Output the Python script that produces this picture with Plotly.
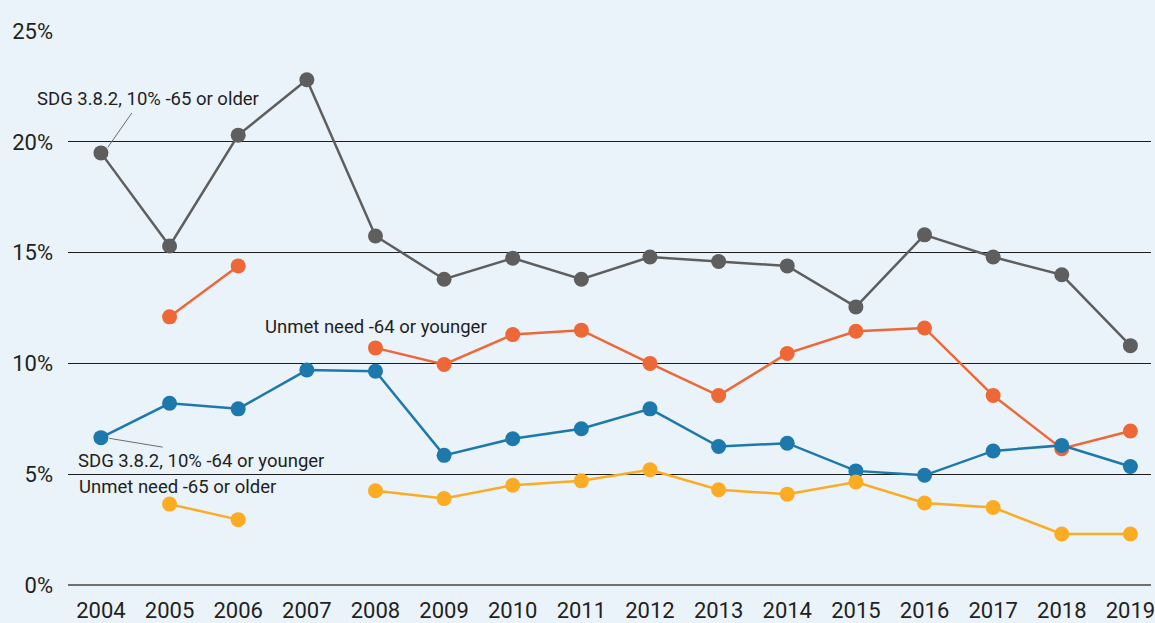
import plotly.graph_objects as go

years = list(range(2004, 2020))
sdg_65_older = [19.5, 15.3, 20.3, 22.8, 15.75, 13.8, 14.75, 13.8, 14.8, 14.6, 14.4, 12.55, 15.8, 14.8, 14.0, 10.8]
unmet_64_younger = [None, 12.1, 14.4, None, 10.7, 9.95, 11.3, 11.5, 10.0, 8.55, 10.45, 11.45, 11.6, 8.55, 6.15, 6.95]
sdg_64_younger = [6.65, 8.2, 7.95, 9.7, 9.65, 5.85, 6.6, 7.05, 7.95, 6.25, 6.4, 5.15, 4.95, 6.05, 6.3, 5.35]
unmet_65_older = [None, 3.65, 2.95, None, 4.25, 3.9, 4.5, 4.7, 5.2, 4.3, 4.1, 4.65, 3.7, 3.5, 2.3, 2.3]

y_ticks = [0, 5, 10, 15, 20, 25]
y_tick_labels = ["0%", "5%", "10%", "15%", "20%", "25%"]

series = [
    ("SDG 3.8.2, 10% -65 or older", sdg_65_older, "#5e5e5f"),
    ("Unmet need -64 or younger", unmet_64_younger, "#ee6837"),
    ("SDG 3.8.2, 10% -64 or younger", sdg_64_younger, "#1d78ab"),
    ("Unmet need -65 or older", unmet_65_older, "#fbac22"),
]

fig = go.Figure()
for name, vals, color in series:
    fig.add_trace(go.Scatter(
        x=years, y=vals, name=name, mode="lines+markers",
        line=dict(color=color, width=2.5),
        marker=dict(color=color, size=15),
        connectgaps=False, cliponaxis=False,
    ))

txt_font = dict(family="Roboto, sans-serif", size=18.5, color="#231f20")
annotations = [
    dict(x=-0.0304, y=21.93, text="SDG 3.8.2, 10% -65 or older"),
    dict(x=0.1803, y=11.64, text="Unmet need -64 or younger"),
    dict(x=0.0074, y=5.6, text="SDG 3.8.2, 10% -64 or younger"),
    dict(x=0.0083, y=4.42, text="Unmet need -65 or older"),
]
for a in annotations:
    fig.add_annotation(x=a["x"], y=a["y"], text=a["text"], xref="paper", yref="y",
                       xanchor="left", yanchor="middle", showarrow=False, font=txt_font)

fig.add_shape(type="line", xref="x", yref="y", x0=2004.45, y0=21.3, x1=2004.1, y1=19.75,
              line=dict(color="#6d6d6d", width=1))
fig.add_shape(type="line", xref="x", yref="y", x0=2004.12, y0=6.62, x1=2004.9, y1=6.22,
              line=dict(color="#6d6d6d", width=1))

fig.update_layout(
    width=1155, height=623,
    margin=dict(l=68, r=0, t=31, b=38),
    paper_bgcolor="#eaf2fa", plot_bgcolor="#eaf2fa",
    showlegend=False,
    font=dict(family="Roboto, sans-serif", size=22, color="#231f20"),
    xaxis=dict(range=[2003.52, 2019.3], tickmode="array", tickvals=years,
               ticktext=[str(y) for y in years], showgrid=False, zeroline=False,
               showline=False, ticks="", tickfont=dict(size=22),
               ticklabeloverflow="allow", ticklabelstandoff=10),
    yaxis=dict(range=[0, 25], tickmode="array", tickvals=y_ticks, ticktext=y_tick_labels,
               showgrid=True, gridcolor="#1e1e1e", gridwidth=1, zeroline=True,
               zerolinecolor="#707070", zerolinewidth=2, showline=False, ticks="",
               ticklabelstandoff=14, tickfont=dict(size=22)),
)

fig.write_html("out.html", config={"displayModeBar": False},
               post_script="document.body.style.margin='0';document.body.style.overflow='hidden';")
